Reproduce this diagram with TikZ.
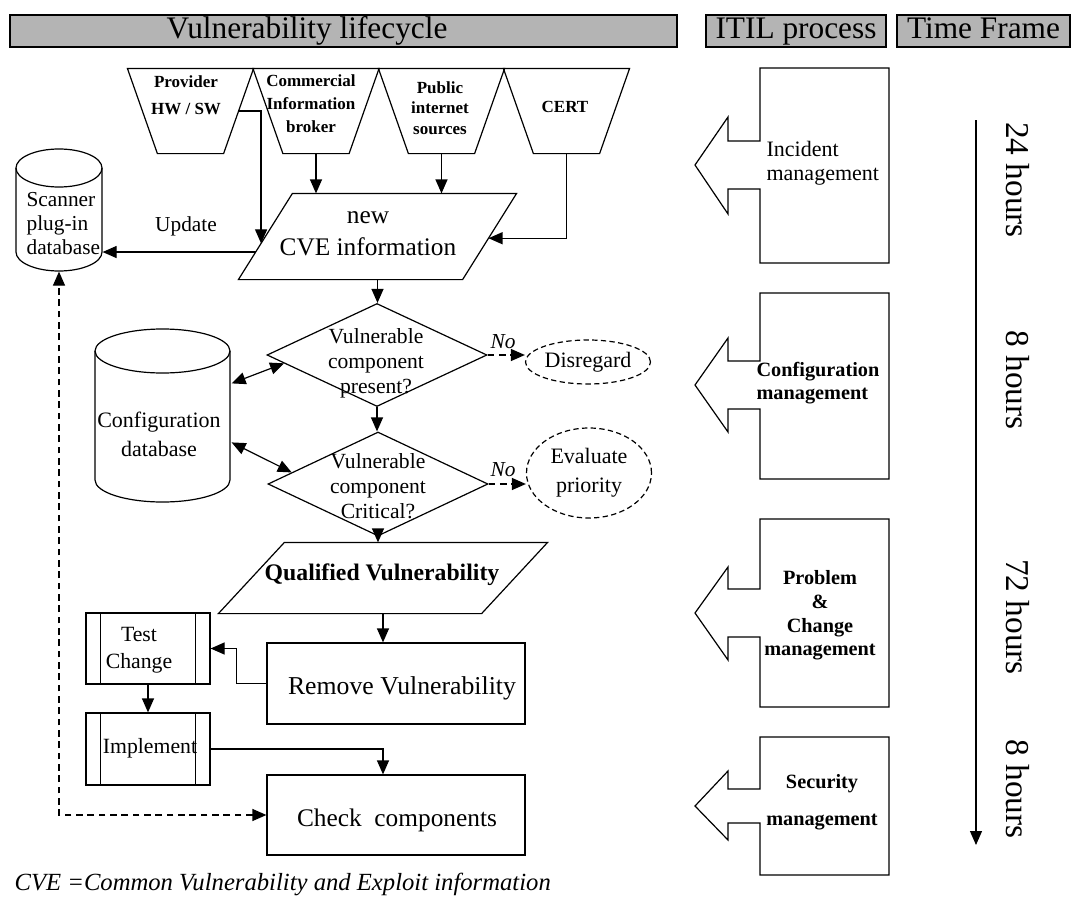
\documentclass[tikz,border=0pt]{standalone}
\usepackage{fontspec}
\setmainfont{Liberation Serif}
\usetikzlibrary{shapes.geometric,arrows.meta,calc}
\definecolor{hdrgray}{RGB}{180,180,180}
\newcommand\fsz[2]{\fontsize{#1}{#2}\selectfont}
\newcommand\itilshape[7]{\draw (760,#3) -- (760,#1) -- (889,#1) -- (889,#2) -- (760,#2) -- (760,#4) -- (728,#4) -- (728,#6) -- (695,#7) -- (728,#5) -- (728,#3) -- cycle;}
\newcommand\srcshape[1]{\draw (#1.north west) -- (#1.north east) -- ([xshift=-22.5pt]#1.south east) -- ([xshift=22.5pt]#1.south west) -- cycle;}
\begin{document}
\begin{tikzpicture}[x=0.75pt,y=-0.75pt,
  line width=0.9pt,
  >={Triangle[length=10.5pt,width=9pt]},
  hdr/.style={draw, line width=0.8pt, fill=hdrgray, minimum height=32*0.75pt, inner sep=0pt, text height=16.5pt, text depth=5pt, font=\fsz{23.5}{26}},
  src/.style={minimum width=125*0.75pt, minimum height=84*0.75pt, inner sep=0pt},
  srct/.style={align=center, inner sep=0pt, font=\bfseries\fsz{12.75}{17}},
  txt/.style={inner sep=0pt, align=center},
  box/.style={draw, inner sep=0pt},
  dia/.style={diamond, draw, minimum width=220*0.75pt, inner sep=0pt},
  oval/.style={ellipse, draw, dash pattern=on 4pt off 2.5pt, minimum width=125*0.75pt, inner sep=0pt, align=center},
  dasharrow/.style={->, dash pattern=on 5pt off 3.5pt}
]
\useasboundingbox (0,0) rectangle (1072,910);

% headers
\node[hdr, minimum width=667*0.75pt] (hv) at (343.5,31) {};
\node[txt, font=\fsz{23.5}{26}, text height=16.5pt, text depth=5pt] (hvt) at (307,31) {Vulnerability lifecycle};
\node[hdr, minimum width=180*0.75pt] (hi) at (796,31) {ITIL process};
\node[hdr, minimum width=173*0.75pt] (ht) at (983.5,31) {Time Frame};

% sources
\node[src] (prov) at (190.5,111) {};
\node[src] (comm) at (316,111) {};
\node[src] (pub) at (441.5,111) {};
\node[src] (cert) at (566.5,111) {};
\srcshape{prov}
\srcshape{comm}
\srcshape{pub}
\srcshape{cert}
\node[srct, font=\bfseries\fsz{12.75}{20}] (provt) at (186,95) {Provider\\HW / SW};
\node[srct, font=\bfseries\fsz{12.75}{17.25}] (commt) at (311,104) {Commercial\\Information\\broker};
\node[srct, font=\bfseries\fsz{12.75}{15.5}] (pubt) at (440,108) {Public\\internet\\sources};
\node[srct] (certt) at (565,107) {CERT};

% new CVE information
\node[minimum width=277*0.75pt, minimum height=85*0.75pt, inner sep=0pt] (cve) at (377.5,236.5) {};
\coordinate (cvetl) at ([xshift=40.5pt]cve.north west);
\coordinate (cvebr) at ([xshift=-40.5pt]cve.south east);
\draw (cvetl) -- (cve.north east) -- (cvebr) -- (cve.south west) -- cycle;
\node[txt, font=\fsz{19}{24}] (cvet) at (368,234) {new\\CVE information};

\coordinate (pin) at ($(cvetl)!0.58!(cve.south west)$);
\coordinate (pout) at ($(cve.north east)!0.52!(cvebr)$);
\coordinate (uout) at ($(cvetl)!0.68!(cve.south west)$);
\draw[->] ([xshift=-11.25pt]prov.east) -| (pin);
\draw[->] (comm.south) -- (comm.south |- cve.north);
\draw[->] (pub.south) -- (pub.south |- cve.north);
\draw[->] (cert.south) |- (pout);

% scanner plug-in database
\node[minimum width=86*0.75pt, minimum height=122*0.75pt, inner sep=0pt] (scan) at (59,210) {};
\draw (16,168) -- (16,252) arc[start angle=180, end angle=0, x radius=43, y radius=19] -- (102,168);
\draw (59,168) ellipse[x radius=43, y radius=19];
\node[inner sep=0pt, align=left, anchor=west, font=\fsz{16}{18}] (scant) at (26,224) {Scanner\\plug-in\\database};
\node[txt, font=\fsz{16}{18}] (upd) at (186,226) {Update};
\draw[->] (uout) -- (uout -| scan.east);

% decisions
\node[dia, minimum height=103*0.75pt] (d1) at (377,355) {};
\node[txt, font=\fsz{16.2}{18.75}] (d1t) at (376,363) {Vulnerable\\component\\present?};
\node[dia, minimum height=104*0.75pt] (d2) at (378,484) {};
\node[txt, font=\fsz{16.2}{18.75}] (d2t) at (378,486) {Vulnerable\\component\\Critical?};
\draw[->] (cve.south) -- (cve.south |- d1.north);
\draw[->] (d1.south) -- (d1.south |- d2.north);

% configuration database
\node[minimum width=135*0.75pt, minimum height=173*0.75pt, inner sep=0pt] (cfg) at (162.5,415.5) {};
\draw (95,351) -- (95,480) arc[start angle=180, end angle=0, x radius=67.5, y radius=22] -- (230,351);
\draw (162.5,351) ellipse[x radius=67.5, y radius=22];
\node[txt, font=\fsz{16.5}{21.75}] (cfgt) at (159,434) {Configuration\\database};
\draw[<->] ($(cfg.north east)+(1,55)$) -- ($(d1.west)!0.16!(d1.south)$);
\draw[<->] ($(cfg.north east)+(1,114)$) -- ($(d2.west)!0.22!(d2.north)$);

% No branches
\node[oval, minimum height=44*0.75pt, font=\fsz{16.5}{18}] (dis) at (588,362) {Disregard};
\node[oval, minimum height=90*0.75pt, font=\fsz{16.5}{21.75}] (ev) at (589,473) {Evaluate\\priority};
\draw[dasharrow] (d1.east) -- (d1.east -| dis.west);
\draw[dasharrow] (d2.east) -- (d2.east -| ev.west);
\node[txt, font=\itshape\fsz{16}{18}] (no1) at (503,342) {No};
\node[txt, font=\itshape\fsz{16}{18}] (no2) at (503,470) {No};

% qualified vulnerability
\node[minimum width=328*0.75pt, minimum height=70*0.75pt, inner sep=0pt] (qual) at (383,578) {};
\coordinate (qualtl) at ([xshift=49.5pt]qual.north west);
\coordinate (qualbr) at ([xshift=-49.5pt]qual.south east);
\draw (qualtl) -- (qual.north east) -- (qualbr) -- (qual.south west) -- cycle;
\node[txt, font=\bfseries\fsz{17.8}{20}] (qualt) at (382,575) {Qualified Vulnerability};
\draw[->] (d2.south) -- (d2.south |- qual.north);

% remove vulnerability
\node[box, minimum width=258*0.75pt, minimum height=81*0.75pt] (rem) at (396,683.5) {};
\node[txt, font=\fsz{19.3}{22}] (remt) at (402,688) {Remove Vulnerability};
\draw[->] (qual.south) -- (qual.south |- rem.north);

% test change
\node[box, minimum width=124*0.75pt, minimum height=71*0.75pt] (tc) at (148,648.5) {};
\draw ([xshift=11.25pt]tc.north west) -- ([xshift=11.25pt]tc.south west);
\draw ([xshift=-11.25pt]tc.north east) -- ([xshift=-11.25pt]tc.south east);
\node[txt, font=\fsz{16.3}{20}] (tct) at (139,650) {Test\\Change};
\draw[->] (rem.west) -- ++(-30,0) |- (tc.east);

% implement
\node[box, minimum width=124*0.75pt, minimum height=72*0.75pt] (imp) at (148,749) {};
\draw ([xshift=11.25pt]imp.north west) -- ([xshift=11.25pt]imp.south west);
\draw ([xshift=-11.25pt]imp.north east) -- ([xshift=-11.25pt]imp.south east);
\node[txt, font=\fsz{16.3}{20}] (impt) at (150,748) {Implement};
\draw[->] (tc.south) -- (imp.north);

% check components
\node[box, minimum width=258*0.75pt, minimum height=80*0.75pt] (chk) at (396,815) {};
\node[txt, font=\fsz{19}{22}] (chkt) at (397,820) {Check\ \ components};
\draw[->] (imp.east) -| (qual.south |- chk.north);
\draw[dasharrow, <->] (chk.west) -| (scan.south);

% footnote
\node[inner sep=0pt, anchor=west, font=\itshape\fsz{18.5}{20}] (fn) at (14,884) {CVE =Common Vulnerability and Exploit information};

% ITIL processes
\itilshape{68}{263}{141}{189}{117}{214}{165}
\itilshape{293}{479}{361}{409}{338}{432}{385}
\itilshape{519}{707}{589}{637}{567}{660}{613}
\itilshape{737}{875}{789}{823}{771}{840}{806}
\node[inner sep=0pt, align=left, anchor=west, font=\fsz{16.5}{18}] (inct) at (766,163) {Incident\\management};
\node[inner sep=0pt, align=left, anchor=west, font=\bfseries\fsz{15.2}{17.25}] (cfmt) at (756,383.5) {Configuration\\management};
\node[txt, font=\bfseries\fsz{15.2}{17.75}] (pcmt) at (820,615.5) {Problem\\\&\\Change\\management};
\node[txt, font=\bfseries\fsz{15.2}{27.75}] (secmt) at (822,802.5) {Security\\management};

% time frame
\coordinate (tl0) at (976,120);
\coordinate (tl1) at (976,845);
\draw[->] (tl0) -- (tl1);
\node[txt, rotate=-90, font=\fsz{25}{28}] (h1) at (1018,180) {24 hours};
\node[txt, rotate=-90, font=\fsz{25}{28}] (h2) at (1018,380) {8 hours};
\node[txt, rotate=-90, font=\fsz{25}{28}] (h3) at (1018,617) {72 hours};
\node[txt, rotate=-90, font=\fsz{25}{28}] (h4) at (1018,789) {8 hours};
\end{tikzpicture}
\end{document}
